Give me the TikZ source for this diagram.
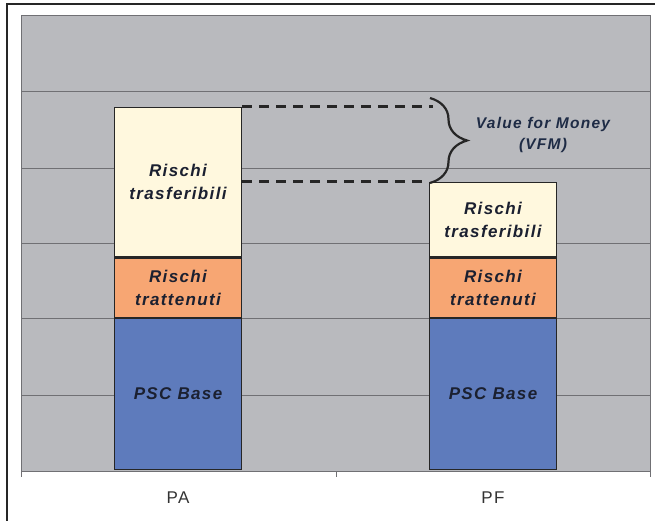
\documentclass[tikz,border=0pt]{standalone}
\usepackage{fontspec}
\setmainfont{Liberation Sans}
\newfontfamily\barfont[LetterSpace=8]{Liberation Sans}
\usetikzlibrary{positioning, decorations.pathreplacing}

\definecolor{plotgray}{HTML}{B9BABE}
\definecolor{gridgray}{HTML}{707074}
\definecolor{cream}{HTML}{FFF8DE}
\definecolor{salmon}{HTML}{F7A673}
\definecolor{pscblue}{HTML}{5E7BBC}
\definecolor{inkdark}{HTML}{1B2030}
\definecolor{vfmblue}{HTML}{1E2B45}

\begin{document}
\begin{tikzpicture}[x=1pt, y=-1pt,
    seg/.style={draw=black!85, line width=1.2pt, inner sep=0pt, minimum width=127pt,
        align=center, text=inkdark, font=\barfont\bfseries\itshape\fontsize{17}{23}\selectfont},
    gap/.style={draw=black!85, line width=3pt, dash pattern=on 10pt off 7pt},
    cat/.style={text=black!80, font=\barfont\fontsize{17}{19}\selectfont}]
    \useasboundingbox (0,0) rectangle (655,521);

    % Frame and plot area
    \draw[line width=2pt, black!85] (7,521) -- (7,4) -- (655,4);
    \draw[gridgray, fill=plotgray] (21,15) rectangle (650,471);
    \foreach \y in {91, 168, 243, 318, 395}
    \draw[gridgray] (21,\y) -- (650,\y);
    \draw[gridgray, line width=1pt] (21,471) -- (650,471);
    \foreach \x in {21, 336, 650}
    \draw[gridgray] (\x,471) -- (\x,477);

    % PA stack
    \node[seg, fill=pscblue, minimum height=151pt, anchor=south] (pa-base) at (178,470) {PSC Base};
    \node[seg, fill=salmon, minimum height=59pt, above=0pt of pa-base] (pa-tratt) {Rischi\\trattenuti};
    \node[seg, fill=cream, minimum height=149.5pt, above=0pt of pa-tratt] (pa-tras) {Rischi\\trasferibili};

    % PF stack
    \node[seg, fill=pscblue, minimum height=151pt, anchor=south] (pf-base) at (493,470) {PSC Base};
    \node[seg, fill=salmon, minimum height=59pt, above=0pt of pf-base] (pf-tratt) {Rischi\\trattenuti};
    \node[seg, fill=cream, minimum height=74.5pt, above=0pt of pf-tratt] (pf-tras) {Rischi\\trasferibili};

    % Categories
    \node[cat] (pa-label) at (178,498) {PA};
    \node[cat] (pf-label) at (493,498) {PF};

    % Value for Money gap
    \coordinate (gap-x) at (433,0);
    \draw[gap] (pa-tras.north east) -- (pa-tras.north east -| gap-x);
    \draw[gap] (pa-tras.east |- pf-tras.north) -- (pf-tras.north west);
    \coordinate (brace-top) at (430,98);
    \coordinate (brace-bot) at (430,183);
    \draw[black!85, line width=2.2pt, decorate, decoration={brace, amplitude=37pt}] (brace-top) -- (brace-bot);
    \node[align=center, text=vfmblue, font=\barfont\bfseries\itshape\fontsize{15.5}{21}\selectfont] (vfm) at (543,135) {Value for Money\\(VFM)};
\end{tikzpicture}
\end{document}
